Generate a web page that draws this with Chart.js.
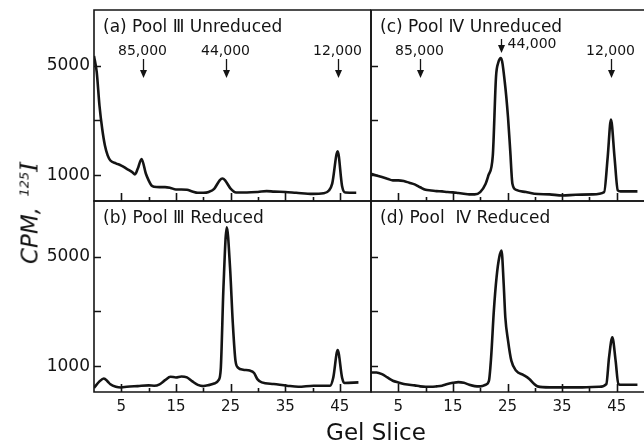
<!DOCTYPE html>
<html>
<head>
<meta charset="utf-8">
<script src="https://cdn.jsdelivr.net/npm/chart.js@4.4.1/dist/chart.umd.min.js"></script>
<style>
    html, body { margin: 0; padding: 0; background: #fff; }
    #wrap { position: relative; width: 644px; height: 443px; overflow: hidden; }
    #wrap canvas { position: absolute; left: 0; top: 0; }
    #ytitle {
        position: absolute; left: 27px; top: 213px;
        transform: translate(-50%, -50%) rotate(-90deg);
        font: italic 23px "DejaVu Sans"; color: #111; white-space: nowrap; line-height: 23px;
    }
    #ytitle sup { font-size: 13px; vertical-align: 9px; margin-left: 3px; }
    #ytitle .iso { font-family: "DejaVu Serif"; font-size: 25px; }
    #xtitle {
        position: absolute; left: 376px; top: 421px; transform: translateX(-50%);
        font: 23px "DejaVu Sans"; color: #111; white-space: nowrap; line-height: 23px;
    }
</style>
</head>
<body>
<div id="wrap">
    <canvas id="panelA" width="644" height="443"></canvas>
    <canvas id="panelB" width="644" height="443"></canvas>
    <canvas id="panelC" width="644" height="443"></canvas>
    <canvas id="panelD" width="644" height="443"></canvas>
    <div id="ytitle">CPM, <sup>125</sup><span class="iso">I</span></div>
    <div id="xtitle">Gel Slice</div>
</div>
<script>
// gel slice positions and counts
const aSlice = [0, 0.5, 1, 1.5, 2, 2.5, 3, 4, 5, 6, 7, 7.5, 8, 8.7, 9.5, 10, 10.5, 11, 12, 13, 14, 15, 16, 17, 18, 19, 20, 21, 22, 23, 23.5, 24, 25, 26, 28, 30, 31.6, 33, 35, 37, 40, 42, 43, 43.6, 44.6, 45.4, 46, 48];
const aCpm = [5350, 4760, 3545, 2700, 2090, 1730, 1545, 1440, 1360, 1240, 1120, 1040, 1240, 1600, 1060, 820, 640, 590, 575, 575, 545, 490, 490, 480, 420, 370, 370, 400, 515, 820, 890, 820, 520, 380, 380, 400, 430, 410, 400, 370, 330, 350, 450, 700, 1880, 620, 380, 370];

const bSlice = [0, 1, 1.8, 2.5, 3, 4, 5, 6, 8, 10, 11, 12, 13, 14, 15, 16, 17, 18, 19, 20, 21, 22, 22.8, 23.2, 23.7, 24.3, 24.9, 25.4, 25.9, 26.4, 27.3, 28.5, 29.3, 29.9, 30.7, 32.9, 35.3, 37.4, 40.2, 43.2, 43.8, 44.6, 45.4, 45.8, 48.4];
const bCpm = [220, 455, 563, 455, 350, 260, 236, 260, 285, 310, 300, 350, 500, 625, 600, 636, 600, 455, 330, 285, 320, 380, 500, 900, 3900, 6060, 4600, 2600, 1200, 950, 880, 850, 760, 540, 420, 360, 300, 260, 300, 300, 600, 1594, 600, 400, 420];

const cSlice = [0, 1, 2, 3, 4, 5, 6, 7, 8, 9, 10, 11, 12, 13, 14, 15, 16, 17, 18, 19, 20, 21, 21.5, 22.3, 22.9, 23.3, 23.8, 24.5, 25.1, 25.5, 25.9, 26.6, 28.4, 29.9, 32.7, 35.1, 37.5, 40.6, 42.7, 43.35, 43.95, 44.6, 45.2, 45.7, 48.8];
const cCpm = [1060, 1000, 940, 880, 820, 820, 795, 735, 675, 570, 475, 455, 430, 420, 395, 385, 360, 335, 310, 310, 395, 700, 1000, 1700, 4600, 5100, 5270, 4400, 3100, 1900, 700, 475, 395, 335, 310, 270, 295, 310, 395, 1670, 3030, 1670, 455, 420, 420];

const dSlice = [0, 1, 2, 3, 4, 5, 6, 7, 8, 9, 10, 11, 12, 13, 14, 15, 16, 17, 18, 19, 20, 21, 21.6, 22, 22.5, 23, 23.5, 23.9, 24.3, 24.6, 25.1, 25.7, 26.6, 27.8, 29, 29.9, 30.5, 32.7, 35.7, 38.7, 41.8, 43.1, 43.6, 44.2, 44.8, 45.3, 46, 48.8];
const dCpm = [780, 780, 720, 600, 480, 415, 360, 335, 310, 275, 260, 260, 275, 300, 360, 405, 430, 405, 335, 285, 275, 335, 480, 1330, 3030, 4250, 4980, 5220, 4010, 2790, 1940, 1210, 840, 700, 545, 360, 275, 240, 240, 240, 260, 360, 1330, 2060, 1210, 360, 335, 335];

// molecular weight markers
const markerLabels = ['85,000', '44,000', '12,000'];
const aMarkerSlice = [9.0, 24.1, 44.7];
const cMarkerSlice = [9.0, 23.9, 43.9];

const xTickValues = [5, 10, 15, 20, 25, 30, 35, 40, 45];
const xTickLabels = [5, 15, 25, 35, 45];
const yTickValues = [1000, 3000, 5000];
const yTickLabels = [1000, 5000];

const INK = '#141414';

function noPadding(s) {
    s.paddingTop = 0;
    s.paddingBottom = 0;
    s.paddingLeft = 0;
    s.paddingRight = 0;
}

function decor(p) {
    return {
        id: 'decor',
        afterDatasetsDraw(chart) {
            const { ctx, chartArea: a, scales: { x, y } } = chart;
            ctx.save();
            ctx.strokeStyle = INK;
            ctx.fillStyle = INK;
            ctx.lineWidth = 1.6;
            // frame; the right column is cut off at the page edge
            ctx.beginPath();
            ctx.moveTo(a.right, a.top);
            ctx.lineTo(a.left, a.top);
            ctx.lineTo(a.left, a.bottom);
            ctx.lineTo(a.right, a.bottom);
            if (p.rightEdge) ctx.lineTo(a.right, a.top);
            ctx.stroke();

            ctx.beginPath();
            yTickValues.forEach(v => {
                const py = Math.round(y.getPixelForValue(v)) + 0.5;
                ctx.moveTo(a.left, py);
                ctx.lineTo(a.left + 7, py);
            });
            xTickValues.forEach(v => {
                const px = Math.round(x.getPixelForValue(v)) + 0.5;
                const len = v % 10 ? 8 : 4;
                ctx.moveTo(px, a.bottom);
                ctx.lineTo(px, a.bottom - len);
            });
            ctx.stroke();

            ctx.font = '17px "DejaVu Sans"';
            ctx.textBaseline = 'alphabetic';
            ctx.textAlign = 'left';
            ctx.fillText(p.title, a.left + 9, a.top + 22);

            if (p.markers) {
                ctx.font = '14px "DejaVu Sans"';
                p.markers.forEach((s, i) => {
                    const px = Math.round(x.getPixelForValue(s)) + 0.5;
                    const side = p.sideLabel === i;
                    const top = a.top + (side ? 29 : 49);
                    const tip = a.top + (side ? 43 : 68);
                    ctx.lineWidth = 1.3;
                    ctx.beginPath();
                    ctx.moveTo(px, top);
                    ctx.lineTo(px, tip - 5);
                    ctx.stroke();
                    ctx.beginPath();
                    ctx.moveTo(px - 3.5, tip - 8);
                    ctx.lineTo(px + 3.5, tip - 8);
                    ctx.lineTo(px, tip);
                    ctx.closePath();
                    ctx.fill();
                    if (side) {
                        ctx.textAlign = 'left';
                        ctx.fillText(markerLabels[i], px + 6, a.top + 38);
                    } else {
                        ctx.textAlign = 'center';
                        ctx.fillText(markerLabels[i], px - 1, a.top + 45);
                    }
                });
            }
            ctx.restore();
        }
    };
}

function makePanel(id, p) {
    new Chart(document.getElementById(id), {
        type: 'line',
        data: {
            datasets: [{
                data: p.slices.map((s, i) => ({ x: s, y: p.cpm[i] })),
                borderColor: INK,
                borderWidth: 2.6,
                pointRadius: 0,
                cubicInterpolationMode: 'monotone',
                fill: false
            }]
        },
        options: {
            responsive: false,
            animation: false,
            events: [],
            layout: { padding: p.pad },
            plugins: { legend: { display: false }, tooltip: { enabled: false } },
            scales: {
                x: {
                    type: 'linear', min: 0, max: p.xMax,
                    grid: { display: false, drawTicks: false },
                    border: { display: false },
                    ticks: {
                        display: p.xLabels, autoSkip: false, maxRotation: 0, padding: 6,
                        color: INK, font: { family: 'DejaVu Sans', size: 15 }
                    },
                    afterBuildTicks: s => { s.ticks = xTickLabels.map(v => ({ value: v })); },
                    afterFit: s => { s.height = p.xH; noPadding(s); }
                },
                y: {
                    type: 'linear', min: 70, max: 7020,
                    grid: { display: false, drawTicks: false },
                    border: { display: false },
                    ticks: {
                        display: p.yLabels, padding: 4, color: INK,
                        font: { family: 'DejaVu Sans', size: 17 },
                        callback: v => yTickLabels.includes(v) ? String(v) : ''
                    },
                    afterBuildTicks: s => { s.ticks = yTickValues.map(v => ({ value: v })); },
                    afterFit: s => { s.width = p.yW; noPadding(s); }
                }
            }
        },
        plugins: [decor(p)]
    });
}

document.addEventListener('DOMContentLoaded', () => {
    makePanel('panelA', {
        title: '(a) Pool Ⅲ Unreduced', slices: aSlice, cpm: aCpm,
        markers: aMarkerSlice, sideLabel: -1, rightEdge: true,
        pad: { left: 0, top: 10, right: 273, bottom: 242 }, yW: 94, xH: 0,
        xMax: 50.7, xLabels: false, yLabels: true
    });
    makePanel('panelB', {
        title: '(b) Pool Ⅲ Reduced', slices: bSlice, cpm: bCpm, rightEdge: true,
        pad: { left: 0, top: 201, right: 273, bottom: 0 }, yW: 94, xH: 51,
        xMax: 50.7, xLabels: true, yLabels: true
    });
    makePanel('panelC', {
        title: '(c) Pool Ⅳ Unreduced', slices: cSlice, cpm: cCpm,
        markers: cMarkerSlice, sideLabel: 1, rightEdge: false,
        pad: { left: 371, top: 10, right: 0, bottom: 242 }, yW: 0, xH: 0,
        xMax: 50, xLabels: false, yLabels: false
    });
    makePanel('panelD', {
        title: '(d) Pool  Ⅳ Reduced', slices: dSlice, cpm: dCpm, rightEdge: false,
        pad: { left: 371, top: 201, right: 0, bottom: 0 }, yW: 0, xH: 51,
        xMax: 50, xLabels: true, yLabels: false
    });
});
</script>
</body>
</html>
